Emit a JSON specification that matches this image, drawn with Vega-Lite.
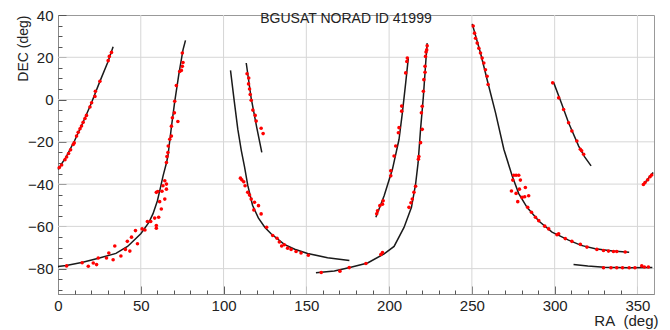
{
  "$schema": "https://vega.github.io/schema/vega-lite/v6.json",
  "width": 596,
  "height": 279,
  "autosize": {"type": "none"},
  "padding": {"left": 58, "top": 15, "right": 16, "bottom": 36},
  "background": "white",
  "title": {"text": "BGUSAT NORAD ID 41999", "fontSize": 14, "fontWeight": "normal", "font": "Liberation Sans", "color": "#222", "baseline": "middle", "offset": 0, "dy": 25, "dx": -10, "anchor": "middle", "frame": "group"},
  "config": {
    "view": {"stroke": "#999", "strokeWidth": 1},
    "axis": {"labelFont": "Liberation Sans", "titleFont": "Liberation Sans", "labelColor": "#222", "titleColor": "#222", "titleFontWeight": "normal", "labelFontSize": 15, "titleFontSize": 15, "domainColor": "#888", "tickColor": "#555", "labelOverlap": false, "labelFlush": false, "grid": false}
  },
  "resolve": {"axis": {"x": "independent", "y": "independent"}},
  "datasets": {
    "gridx": [{"v": 50}, {"v": 100}, {"v": 150}, {"v": 200}, {"v": 250}, {"v": 300}, {"v": 350}],
    "gridy": [{"v": -80}, {"v": -60}, {"v": -40}, {"v": -20}, {"v": 0}, {"v": 20}],
    "lines": [
      {"track": "A", "i": 0, "ra": 0, "dec": -33}, {"track": "A", "i": 1, "ra": 5, "dec": -27}, {"track": "A", "i": 2, "ra": 10, "dec": -19.5}, {"track": "A", "i": 3, "ra": 15, "dec": -11}, {"track": "A", "i": 4, "ra": 20, "dec": -2}, {"track": "A", "i": 5, "ra": 25, "dec": 8}, {"track": "A", "i": 6, "ra": 30, "dec": 17.5}, {"track": "A", "i": 7, "ra": 33.3, "dec": 25},
      {"track": "B", "i": 0, "ra": 0, "dec": -79}, {"track": "B", "i": 1, "ra": 5, "dec": -78.5}, {"track": "B", "i": 2, "ra": 15, "dec": -77}, {"track": "B", "i": 3, "ra": 25, "dec": -75}, {"track": "B", "i": 4, "ra": 35, "dec": -72.8}, {"track": "B", "i": 5, "ra": 42, "dec": -69.5}, {"track": "B", "i": 6, "ra": 50, "dec": -63.5}, {"track": "B", "i": 7, "ra": 55, "dec": -58}, {"track": "B", "i": 8, "ra": 57.4, "dec": -54}, {"track": "B", "i": 9, "ra": 60, "dec": -48}, {"track": "B", "i": 10, "ra": 61.5, "dec": -43}, {"track": "B", "i": 11, "ra": 63.5, "dec": -36}, {"track": "B", "i": 12, "ra": 65.5, "dec": -30}, {"track": "B", "i": 13, "ra": 66.4, "dec": -26.7}, {"track": "B", "i": 14, "ra": 68.5, "dec": -13}, {"track": "B", "i": 15, "ra": 70.5, "dec": -1}, {"track": "B", "i": 16, "ra": 73, "dec": 12}, {"track": "B", "i": 17, "ra": 75.5, "dec": 23.5}, {"track": "B", "i": 18, "ra": 77, "dec": 28},
      {"track": "C", "i": 0, "ra": 104.2, "dec": 13.8}, {"track": "C", "i": 1, "ra": 106.5, "dec": -1}, {"track": "C", "i": 2, "ra": 108.6, "dec": -14}, {"track": "C", "i": 3, "ra": 110.7, "dec": -24}, {"track": "C", "i": 4, "ra": 112.7, "dec": -32}, {"track": "C", "i": 5, "ra": 114.6, "dec": -40.5}, {"track": "C", "i": 6, "ra": 117.5, "dec": -50}, {"track": "C", "i": 7, "ra": 121, "dec": -56}, {"track": "C", "i": 8, "ra": 125, "dec": -60.5}, {"track": "C", "i": 9, "ra": 128.7, "dec": -63.5}, {"track": "C", "i": 10, "ra": 136.7, "dec": -68.5}, {"track": "C", "i": 11, "ra": 143, "dec": -70.8}, {"track": "C", "i": 12, "ra": 150.8, "dec": -72.8}, {"track": "C", "i": 13, "ra": 162.8, "dec": -74.8}, {"track": "C", "i": 14, "ra": 176, "dec": -76.2},
      {"track": "D", "i": 0, "ra": 113.7, "dec": 17.3}, {"track": "D", "i": 1, "ra": 116.7, "dec": 0.5}, {"track": "D", "i": 2, "ra": 120, "dec": -13}, {"track": "D", "i": 3, "ra": 123.1, "dec": -25},
      {"track": "E", "i": 0, "ra": 155.8, "dec": -82}, {"track": "E", "i": 1, "ra": 166.9, "dec": -81.1}, {"track": "E", "i": 2, "ra": 176.9, "dec": -79.3}, {"track": "E", "i": 3, "ra": 187, "dec": -77.3}, {"track": "E", "i": 4, "ra": 197, "dec": -73}, {"track": "E", "i": 5, "ra": 203, "dec": -69.5}, {"track": "E", "i": 6, "ra": 209, "dec": -60.5}, {"track": "E", "i": 7, "ra": 213.5, "dec": -51}, {"track": "E", "i": 8, "ra": 216, "dec": -40}, {"track": "E", "i": 9, "ra": 217.5, "dec": -30}, {"track": "E", "i": 10, "ra": 219, "dec": -14}, {"track": "E", "i": 11, "ra": 220.7, "dec": 1.5}, {"track": "E", "i": 12, "ra": 222.1, "dec": 17.3}, {"track": "E", "i": 13, "ra": 223, "dec": 26.7},
      {"track": "F", "i": 0, "ra": 192, "dec": -55.7}, {"track": "F", "i": 1, "ra": 197, "dec": -45.5}, {"track": "F", "i": 2, "ra": 202, "dec": -33}, {"track": "F", "i": 3, "ra": 206, "dec": -18.8}, {"track": "F", "i": 4, "ra": 208, "dec": -6.3}, {"track": "F", "i": 5, "ra": 210, "dec": 7.8}, {"track": "F", "i": 6, "ra": 211.6, "dec": 19.6},
      {"track": "G", "i": 0, "ra": 250.2, "dec": 35.8}, {"track": "G", "i": 1, "ra": 255.2, "dec": 22}, {"track": "G", "i": 2, "ra": 260.2, "dec": 6.3}, {"track": "G", "i": 3, "ra": 264.3, "dec": -6.3}, {"track": "G", "i": 4, "ra": 269.3, "dec": -23.5}, {"track": "G", "i": 5, "ra": 274.3, "dec": -36}, {"track": "G", "i": 6, "ra": 278.3, "dec": -44.5}, {"track": "G", "i": 7, "ra": 283.3, "dec": -51}, {"track": "G", "i": 8, "ra": 290.4, "dec": -57.5}, {"track": "G", "i": 9, "ra": 298.4, "dec": -62.7}, {"track": "G", "i": 10, "ra": 308.4, "dec": -66.5}, {"track": "G", "i": 11, "ra": 316, "dec": -69}, {"track": "G", "i": 12, "ra": 324.5, "dec": -70.6}, {"track": "G", "i": 13, "ra": 335, "dec": -71.6}, {"track": "G", "i": 14, "ra": 345, "dec": -72.2},
      {"track": "H", "i": 0, "ra": 299.4, "dec": 8}, {"track": "H", "i": 1, "ra": 304, "dec": -1.5}, {"track": "H", "i": 2, "ra": 308.4, "dec": -11}, {"track": "H", "i": 3, "ra": 314.5, "dec": -22}, {"track": "H", "i": 4, "ra": 318, "dec": -27}, {"track": "H", "i": 5, "ra": 322, "dec": -31.4},
      {"track": "I", "i": 0, "ra": 311.4, "dec": -78}, {"track": "I", "i": 1, "ra": 320, "dec": -78.8}, {"track": "I", "i": 2, "ra": 330, "dec": -79.3}, {"track": "I", "i": 3, "ra": 345, "dec": -79.6}, {"track": "I", "i": 4, "ra": 359, "dec": -79.5},
      {"track": "J", "i": 0, "ra": 353.6, "dec": -40.2}, {"track": "J", "i": 1, "ra": 359.5, "dec": -34.5}
    ],
    "obs": [
      {"ra": 0.8, "dec": -32.2}, {"ra": 2.2, "dec": -31}, {"ra": 4.2, "dec": -28.5}, {"ra": 5.2, "dec": -27.2}, {"ra": 6.4, "dec": -25.5}, {"ra": 7.6, "dec": -23.8}, {"ra": 9.2, "dec": -21.3}, {"ra": 9.8, "dec": -20.5}, {"ra": 11.2, "dec": -17.3}, {"ra": 12.2, "dec": -15.5}, {"ra": 13.3, "dec": -13.8}, {"ra": 14.2, "dec": -12.5}, {"ra": 15.2, "dec": -10.8}, {"ra": 16.3, "dec": -9}, {"ra": 17.2, "dec": -7.5}, {"ra": 19.3, "dec": -3.5}, {"ra": 20.3, "dec": -1.5}, {"ra": 22.3, "dec": 1.5}, {"ra": 22.6, "dec": 3.9}, {"ra": 25.3, "dec": 8.6}, {"ra": 30.3, "dec": 18.4}, {"ra": 31, "dec": 20.4}, {"ra": 32.3, "dec": 22.3},
      {"ra": 5.2, "dec": -78.7}, {"ra": 14.6, "dec": -77.2}, {"ra": 18.3, "dec": -78.9}, {"ra": 21.3, "dec": -77.3}, {"ra": 23.3, "dec": -78.1}, {"ra": 24.3, "dec": -75}, {"ra": 29.3, "dec": -75}, {"ra": 30.7, "dec": -72.6}, {"ra": 33.3, "dec": -75.8}, {"ra": 34.3, "dec": -69.3}, {"ra": 38, "dec": -74}, {"ra": 40.7, "dec": -70.9}, {"ra": 41.9, "dec": -67.1}, {"ra": 43.4, "dec": -71.7}, {"ra": 44.4, "dec": -65.1}, {"ra": 46.8, "dec": -62}, {"ra": 48, "dec": -68.2}, {"ra": 50.8, "dec": -61.2}, {"ra": 52.5, "dec": -61.7}, {"ra": 54, "dec": -57.7}, {"ra": 56, "dec": -57.7}, {"ra": 59.4, "dec": -59.6}, {"ra": 59.4, "dec": -60.9}, {"ra": 58.4, "dec": -56.1}, {"ra": 60.8, "dec": -55.7}, {"ra": 62.4, "dec": -51.8}, {"ra": 61.4, "dec": -48.3}, {"ra": 59.4, "dec": -43.9}, {"ra": 60.3, "dec": -43.5}, {"ra": 62.8, "dec": -43.4}, {"ra": 64.5, "dec": -47.1}, {"ra": 63.4, "dec": -40.8}, {"ra": 65.5, "dec": -40}, {"ra": 65.5, "dec": -42.4}, {"ra": 64.5, "dec": -38.4},
      {"ra": 65.5, "dec": -29.8}, {"ra": 65.8, "dec": -27}, {"ra": 66.4, "dec": -25.1}, {"ra": 66.6, "dec": -22}, {"ra": 67.5, "dec": -18.8}, {"ra": 68.5, "dec": -17.3}, {"ra": 68.5, "dec": -12.6}, {"ra": 69.1, "dec": -8.6}, {"ra": 70.3, "dec": -6.3}, {"ra": 72.4, "dec": -10.4}, {"ra": 70.5, "dec": -0.8}, {"ra": 71.5, "dec": 6.6}, {"ra": 73.5, "dec": 13.3}, {"ra": 74.5, "dec": 13.8}, {"ra": 75.1, "dec": 15.7}, {"ra": 75.5, "dec": 17.5}, {"ra": 75.1, "dec": 22},
      {"ra": 110.2, "dec": -37.2}, {"ra": 111, "dec": -38}, {"ra": 112.2, "dec": -38.9}, {"ra": 113, "dec": -40.8}, {"ra": 114.6, "dec": -43.9}, {"ra": 115.7, "dec": -45.2}, {"ra": 116.7, "dec": -47.1}, {"ra": 118.7, "dec": -48.6}, {"ra": 118.3, "dec": -52.2}, {"ra": 121.1, "dec": -50.2}, {"ra": 122.7, "dec": -54.1}, {"ra": 126, "dec": -60.4}, {"ra": 129.7, "dec": -64.3}, {"ra": 132.3, "dec": -65.6}, {"ra": 133.7, "dec": -67.4}, {"ra": 135.1, "dec": -69.3}, {"ra": 136.7, "dec": -68.7}, {"ra": 138.7, "dec": -70.3}, {"ra": 140.8, "dec": -70.9}, {"ra": 143.8, "dec": -71.9}, {"ra": 146.8, "dec": -72.6}, {"ra": 151.2, "dec": -73.7},
      {"ra": 114.2, "dec": 12.2}, {"ra": 115.2, "dec": 10.2}, {"ra": 115.1, "dec": 7.4}, {"ra": 115.7, "dec": 5}, {"ra": 116.1, "dec": 2.4}, {"ra": 116.7, "dec": -0.3}, {"ra": 117.7, "dec": -5}, {"ra": 119.1, "dec": -7.5}, {"ra": 119.7, "dec": -10.2}, {"ra": 122.7, "dec": -13.6}, {"ra": 123.9, "dec": -16.1},
      {"ra": 159, "dec": -81.8}, {"ra": 170.3, "dec": -81.2}, {"ra": 175.9, "dec": -79.5}, {"ra": 186, "dec": -77.6}, {"ra": 195, "dec": -73.3}, {"ra": 196, "dec": -72.4},
      {"ra": 212, "dec": -51}, {"ra": 213.2, "dec": -48.8}, {"ra": 214, "dec": -47.1}, {"ra": 215, "dec": -43.9}, {"ra": 216, "dec": -41}, {"ra": 217.7, "dec": -28.2}, {"ra": 218, "dec": -27}, {"ra": 219, "dec": -20.4}, {"ra": 220, "dec": -14.1}, {"ra": 219.5, "dec": -6.3}, {"ra": 220, "dec": -3.2}, {"ra": 220.7, "dec": 3.9}, {"ra": 221, "dec": 9.4}, {"ra": 221.7, "dec": 12.9}, {"ra": 221.7, "dec": 15.7}, {"ra": 222, "dec": 20.4}, {"ra": 222.3, "dec": 22.5}, {"ra": 222.7, "dec": 23.5}, {"ra": 223, "dec": 25.4},
      {"ra": 192.5, "dec": -54}, {"ra": 193, "dec": -52.6}, {"ra": 194.4, "dec": -50.2}, {"ra": 196.4, "dec": -47.9}, {"ra": 196, "dec": -49.5}, {"ra": 201, "dec": -36.1}, {"ra": 201, "dec": -33.7}, {"ra": 203, "dec": -26.7}, {"ra": 204, "dec": -22}, {"ra": 205.6, "dec": -15.7}, {"ra": 206, "dec": -13.3}, {"ra": 207.6, "dec": -5.5}, {"ra": 207.6, "dec": -3.1}, {"ra": 210, "dec": 12.6}, {"ra": 210.7, "dec": 18}, {"ra": 211, "dec": 19.6},
      {"ra": 250.8, "dec": 34.8}, {"ra": 251.6, "dec": 31.4}, {"ra": 252.2, "dec": 29}, {"ra": 253.2, "dec": 26.7}, {"ra": 254.2, "dec": 24.3}, {"ra": 255.2, "dec": 22}, {"ra": 256.2, "dec": 19.6}, {"ra": 257.2, "dec": 17.3}, {"ra": 258.2, "dec": 14.1}, {"ra": 259.2, "dec": 11}, {"ra": 259.8, "dec": 7.1},
      {"ra": 275.3, "dec": -35.8}, {"ra": 276.7, "dec": -35.8}, {"ra": 278.3, "dec": -35.8}, {"ra": 274.7, "dec": -38.1}, {"ra": 279.3, "dec": -38.1}, {"ra": 273.9, "dec": -43.3}, {"ra": 276.7, "dec": -44.4}, {"ra": 278.7, "dec": -42.4}, {"ra": 282.3, "dec": -41.6}, {"ra": 280.3, "dec": -46.3}, {"ra": 277.7, "dec": -48.3}, {"ra": 281.9, "dec": -46}, {"ra": 284.3, "dec": -45.5}, {"ra": 283.7, "dec": -51}, {"ra": 286, "dec": -53.3}, {"ra": 288.4, "dec": -55.7},
      {"ra": 290.4, "dec": -57.3}, {"ra": 294, "dec": -59.9}, {"ra": 296.4, "dec": -61.2}, {"ra": 301.4, "dec": -64}, {"ra": 302.4, "dec": -63.5}, {"ra": 306.4, "dec": -65.8}, {"ra": 310.4, "dec": -67.1}, {"ra": 315.5, "dec": -68.5}, {"ra": 319.5, "dec": -69.8}, {"ra": 325.5, "dec": -70.9}, {"ra": 329.5, "dec": -71.4}, {"ra": 332.5, "dec": -71.7}, {"ra": 335.5, "dec": -71.9}, {"ra": 337.5, "dec": -71.9}, {"ra": 342.6, "dec": -72.1},
      {"ra": 298.8, "dec": 7.9}, {"ra": 302.4, "dec": 0.8}, {"ra": 305.4, "dec": -4.7}, {"ra": 308.4, "dec": -11}, {"ra": 310.4, "dec": -14.9}, {"ra": 313.4, "dec": -19.6}, {"ra": 315.5, "dec": -23.5}, {"ra": 316.3, "dec": -24.2}, {"ra": 317.5, "dec": -25.9},
      {"ra": 329.5, "dec": -79.6}, {"ra": 334, "dec": -79.6}, {"ra": 337.5, "dec": -79.6}, {"ra": 341, "dec": -79.6}, {"ra": 345, "dec": -79.6}, {"ra": 348.5, "dec": -79.6}, {"ra": 352.6, "dec": -78.7}, {"ra": 354.2, "dec": -79.2}, {"ra": 356.6, "dec": -79.2},
      {"ra": 353.6, "dec": -40.2}, {"ra": 354.6, "dec": -39.3}, {"ra": 356.2, "dec": -38}, {"ra": 357.6, "dec": -36.5}, {"ra": 358.6, "dec": -35.7}
    ]
  },
  "layer": [
    {
      "data": {"name": "gridx"},
      "mark": {"type": "rule", "color": "#d6d6d6", "strokeWidth": 1},
      "encoding": {"x": {"field": "v", "type": "quantitative", "axis": null}}
    },
    {
      "data": {"name": "gridy"},
      "mark": {"type": "rule", "color": "#d6d6d6", "strokeWidth": 1},
      "encoding": {"y": {"field": "v", "type": "quantitative", "axis": null}}
    },
    {
      "data": {"name": "lines"},
      "mark": {"type": "line", "color": "#1a1a1a", "strokeWidth": 1.5},
      "encoding": {
        "x": {"field": "ra", "type": "quantitative", "scale": {"domain": [0, 360], "nice": false, "zero": false},
          "axis": {"orient": "bottom", "title": "RA\u00a0 (deg)", "titleAnchor": "end", "titleAlign": "right", "titleBaseline": "top", "titleX": 600, "titleY": 19,
            "values": [0, 50, 100, 150, 200, 250, 300, 350],
            "tickSize": -8, "labelPadding": 12, "grid": false}},
        "y": {"field": "dec", "type": "quantitative", "scale": {"domain": [-92, 40], "nice": false, "zero": false},
          "axis": {"orient": "left", "title": "DEC (deg)", "titleFontSize": 14, "titleAnchor": "end", "titleAngle": -90, "titleAlign": "right", "titleBaseline": "bottom", "titleX": -28, "titleY": 0,
            "values": [-80, -60, -40, -20, 0, 20, 40],
            "tickSize": -8, "labelPadding": 13, "grid": false}},
        "detail": {"field": "track", "type": "nominal"},
        "order": {"field": "i", "type": "quantitative"}
      }
    },
    {
      "data": {"name": "obs"},
      "mark": {"type": "circle", "color": "#ff0000", "size": 13, "opacity": 1},
      "encoding": {
        "x": {"field": "ra", "type": "quantitative",
          "axis": {"orient": "bottom", "title": null, "labels": false, "grid": false, "domain": false, "tickSize": -4,
            "values": [10,20,30,40,60,70,80,90,110,120,130,140,160,170,180,190,210,220,230,240,260,270,280,290,310,320,330,340]}},
        "y": {"field": "dec", "type": "quantitative",
          "axis": {"orient": "left", "title": null, "labels": false, "grid": false, "domain": false, "tickSize": -4,
            "values": [-90,-85,-75,-70,-65,-55,-50,-45,-35,-30,-25,-15,-10,-5,5,10,15,25,30,35]}}
      }
    }
  ]
}
